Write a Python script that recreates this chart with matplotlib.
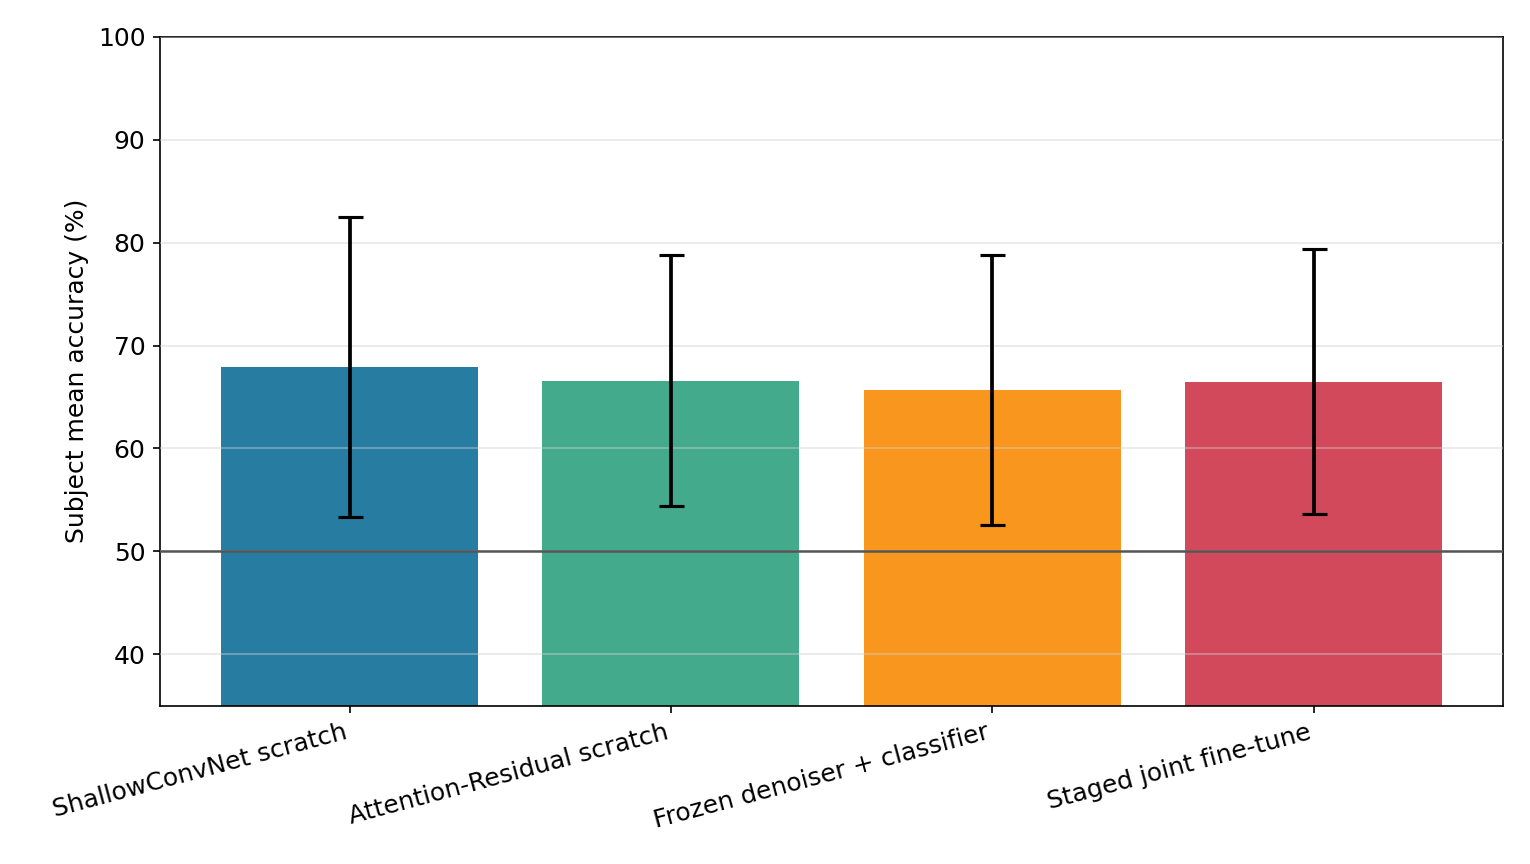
import matplotlib
matplotlib.use('Agg')
import matplotlib.pyplot as plt

methods = ['ShallowConvNet scratch', 'Attention-Residual scratch',
           'Frozen denoiser + classifier', 'Staged joint fine-tune']
mean_acc = [67.9, 66.6, 65.7, 66.5]
std_acc = [14.6, 12.2, 13.1, 12.9]
colors = ['#277da1', '#43aa8b', '#f8961e', '#d1495b']
chance = 50

plt.rcParams['font.size'] = 12

fig = plt.figure(figsize=(10.2, 5.76), dpi=150)
ax = fig.add_axes([0.1046, 0.1834, 0.8778, 0.7738])

x = range(len(methods))
ax.bar(x, mean_acc, width=0.8, color=colors, zorder=1)
ax.errorbar(x, mean_acc, yerr=std_acc, fmt='none', ecolor='black',
            elinewidth=1.8, capsize=6, capthick=1.5, zorder=3)
ax.axhline(chance, color='#555555', linewidth=1.2, zorder=4)

ax.set_ylim(35, 100)
ax.set_yticks([40, 50, 60, 70, 80, 90, 100])
ax.yaxis.grid(True, color='#d0d0d0', alpha=0.5, linewidth=0.8, zorder=2)
ax.set_axisbelow(False)
ax.set_ylabel('Subject mean accuracy (%)')
ax.set_xticks(list(x))
ax.set_xticklabels(methods, rotation=15, ha='right')

fig.savefig('out.png', dpi=150)
